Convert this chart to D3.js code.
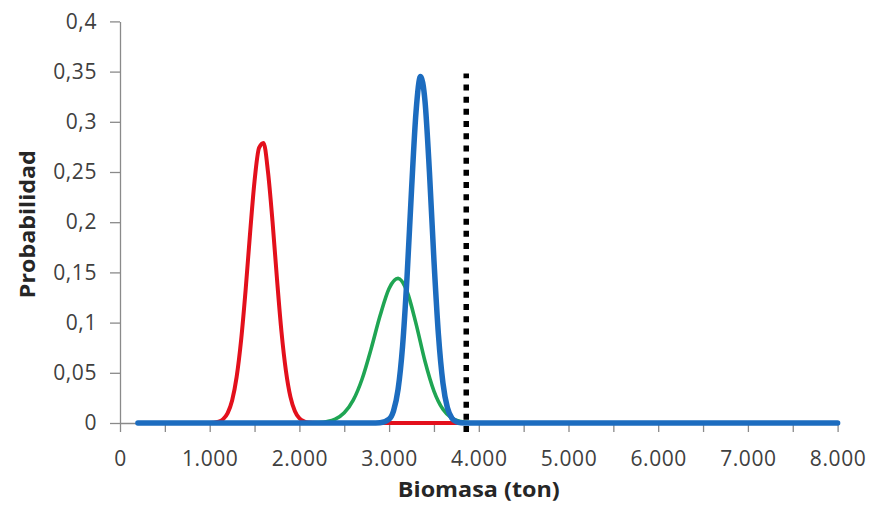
<!DOCTYPE html>
<html>
<head>
<meta charset="utf-8">
<script src="https://cdn.jsdelivr.net/npm/d3@7/dist/d3.min.js"></script>
<style>
  html, body { margin: 0; padding: 0; background: #ffffff; }
  svg { display: block; }
</style>
</head>
<body>
<svg id="chart" width="875" height="512"></svg>
<script>
// Biomass (ton) on x, probability per 100-ton class on y
const redX   = [200, 1000, 1100, 1150, 1200, 1250, 1300, 1350, 1400, 1450, 1500, 1550, 1600, 1650, 1700, 1750, 1800, 1850, 1900, 1950, 2000, 2050, 2100, 2200, 8000];
const redY   = [0, 0, 0.0014, 0.0039, 0.0099, 0.0225, 0.0457, 0.0824, 0.132, 0.189, 0.241, 0.274, 0.279, 0.250, 0.201, 0.1435, 0.091, 0.0518, 0.026, 0.0118, 0.0047, 0.0017, 0.0005, 0, 0];

const greenX = [200, 2100, 2200, 2300, 2400, 2500, 2600, 2700, 2800, 2900, 3000, 3100, 3200, 3300, 3400, 3500, 3600, 3700, 3800, 3900, 4000, 8000];
const greenY = [0, 0, 0.0004, 0.0013, 0.0038, 0.0101, 0.0227, 0.0441, 0.074, 0.107, 0.134, 0.144, 0.131, 0.099, 0.0615, 0.0318, 0.0136, 0.0048, 0.0014, 0.0003, 0, 0];

const blueX  = [200, 2800, 2900, 3000, 3050, 3100, 3150, 3200, 3250, 3300, 3350, 3400, 3450, 3500, 3550, 3600, 3650, 3700, 3750, 3800, 3900, 8000];
const blueY  = [0, 0, 0.0002, 0.0038, 0.0122, 0.0334, 0.0763, 0.1455, 0.232, 0.3096, 0.345, 0.3208, 0.2495, 0.162, 0.088, 0.040, 0.0152, 0.0048, 0.0013, 0.0003, 0, 0];

// Vertical reference line (dotted)
const refX  = [3860, 3860];
const refY  = [-0.009, 0.348];

const xTicks  = [0, 500, 1000, 1500, 2000, 2500, 3000, 3500, 4000, 4500, 5000, 5500, 6000, 6500, 7000, 7500, 8000];
const xLabels = [0, 1000, 2000, 3000, 4000, 5000, 6000, 7000, 8000];
const yTicks  = [0, 0.05, 0.1, 0.15, 0.2, 0.25, 0.3, 0.35, 0.4];

const xTitle = "Biomasa (ton)";
const yTitle = "Probabilidad";

const locale = d3.formatLocale({ decimal: ",", thousands: ".", grouping: [3], currency: ["", ""] });
const fmtX = locale.format(",.0f");
const fmtY = locale.format(".2~f");

const svg = d3.select("#chart");
const x = d3.scaleLinear().domain([0, 8000]).range([120, 837.6]);
const y = d3.scaleLinear().domain([0, 0.4]).range([423, 21.4]);

const axisColor = "#8a8a8a";
const textColor = "#404040";
const font = "'Open Sans', sans-serif";

// Y axis
const gy = svg.append("g")
  .attr("transform", `translate(${x(0)},0)`)
  .call(d3.axisLeft(y).tickValues(yTicks).tickSize(10).tickSizeOuter(0).tickPadding(13).tickFormat(fmtY));

// X axis
const gx = svg.append("g")
  .attr("transform", `translate(0,${y(0)})`)
  .call(d3.axisBottom(x).tickValues(xTicks).tickSize(9).tickSizeOuter(0).tickPadding(19)
    .tickFormat(d => xLabels.includes(d) ? fmtX(d) : ""));

[gx, gy].forEach(g => {
  g.select(".domain").attr("stroke", axisColor).attr("stroke-width", 1.3);
  g.selectAll(".tick line").attr("stroke", axisColor).attr("stroke-width", 1.3);
  g.selectAll(".tick text")
    .attr("fill", textColor)
    .style("font-family", font)
    .style("font-size", "21px")
    .style("letter-spacing", "0.6px");
});

// Series
const line = d3.line()
  .x(d => x(d[0]))
  .y(d => y(d[1]))
  .curve(d3.curveMonotoneX);

const series = [
  { xs: redX,   ys: redY,   color: "#e3101c", width: 4 },
  { xs: greenX, ys: greenY, color: "#1fa553", width: 3.6 },
  { xs: blueX,  ys: blueY,  color: "#1c6cbf", width: 5.5 }
];

series.forEach(s => {
  svg.append("path")
    .datum(s.xs.map((v, i) => [v, s.ys[i]]))
    .attr("fill", "none")
    .attr("stroke", s.color)
    .attr("stroke-width", s.width)
    .attr("stroke-linejoin", "round")
    .attr("stroke-linecap", "round")
    .attr("d", line);
});

// Dotted reference line
svg.append("path")
  .datum(refX.map((v, i) => [v, refY[i]]))
  .attr("fill", "none")
  .attr("stroke", "#000000")
  .attr("stroke-width", 5.5)
  .attr("stroke-dasharray", "6,6.2")
  .attr("d", d3.line().x(d => x(d[0])).y(d => y(d[1])));

// Axis titles
svg.append("text")
  .attr("x", (x(0) + x(8000)) / 2)
  .attr("y", 497)
  .attr("text-anchor", "middle")
  .attr("fill", "#262626")
  .attr("textLength", 162)
  .attr("lengthAdjust", "spacingAndGlyphs")
  .style("font-family", font)
  .style("font-weight", "bold")
  .style("font-size", "21px")
  .text(xTitle);

svg.append("text")
  .attr("transform", `translate(35,${(y(0) + y(0.4)) / 2 + 2}) rotate(-90)`)
  .attr("text-anchor", "middle")
  .attr("fill", "#262626")
  .attr("textLength", 148)
  .attr("lengthAdjust", "spacingAndGlyphs")
  .style("font-family", font)
  .style("font-weight", "bold")
  .style("font-size", "21px")
  .text(yTitle);
</script>
</body>
</html>
